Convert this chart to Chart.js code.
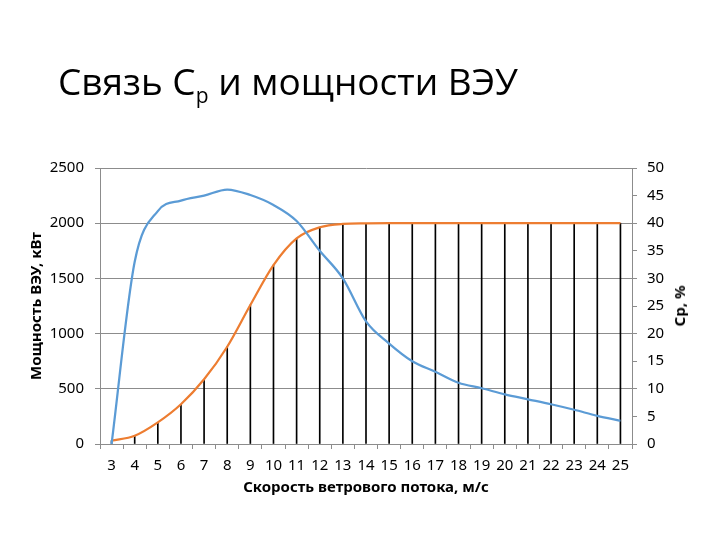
<!DOCTYPE html>
<html>
<head>
<meta charset="utf-8">
<script src="https://cdn.jsdelivr.net/npm/chart.js@4"></script>
<style>
  html, body { margin: 0; padding: 0; background: #fff; }
  #wrap { position: relative; width: 720px; height: 540px; }
  #title { position: absolute; left: 58px; top: 62px; font-family: "Open Sans", sans-serif; font-weight: 400; font-size: 37px; line-height: 37px; color: #000; white-space: nowrap; }
  #title .sub { position: relative; top: 8px; font-size: 21px; }
  #rtitle { position: absolute; left: 679px; top: 306px; transform: translate(-50%, -50%) rotate(-90deg); font-family: "Noto Sans", sans-serif; font-weight: bold; font-size: 15px; color: #000; white-space: nowrap; }
</style>
</head>
<body>
<div id="wrap">
  <canvas id="c" width="720" height="540"></canvas>
  <div id="title">Связь C<span class="sub">р</span> и мощности ВЭУ</div>
  <div id="rtitle">Ср, %</div>
</div>
<script>
const categories = ["3","4","5","6","7","8","9","10","11","12","13","14","15","16","17","18","19","20","21","22","23","24","25"];
const powerKW = [30, 75, 196, 360, 586, 881, 1259, 1621, 1863, 1963, 1993, 1998, 2000, 2000, 2000, 2000, 2000, 2000, 2000, 2000, 2000, 2000, 2000];
const cpPercent = [0, 33, 42.2, 44.1, 45, 46.1, 45.1, 43.3, 40.4, 35, 30, 22.2, 18.2, 15, 13.1, 11.1, 10.1, 9.0, 8.1, 7.2, 6.2, 5.1, 4.2];
const leftTicks = [0, 500, 1000, 1500, 2000, 2500];
const rightTicks = [0, 5, 10, 15, 20, 25, 30, 35, 40, 45, 50];

const tickFont = { family: "Noto Sans", size: 15 };
const axisTitleFont = { family: "Noto Sans", size: 15, weight: "bold" };
const gridColor = "#8c8c8c";

new Chart(document.getElementById("c"), {
  data: {
    labels: categories,
    datasets: [
      { type: "line", label: "Мощность", data: powerKW, yAxisID: "y", borderColor: "#ED7D31", backgroundColor: "#ED7D31", borderWidth: 2.25, pointRadius: 0, cubicInterpolationMode: "monotone", order: 1 },
      { type: "line", label: "Cp", data: cpPercent, yAxisID: "y1", borderColor: "#5B9BD5", backgroundColor: "#5B9BD5", borderWidth: 2.25, pointRadius: 0, cubicInterpolationMode: "monotone", order: 0 },
      { type: "bar", label: "drop", data: powerKW, yAxisID: "y", backgroundColor: "#000", barThickness: 1, order: 2 }
    ]
  },
  options: {
    responsive: false,
    animation: false,
    layout: { padding: { top: 168, left: 0, right: 0, bottom: 0 } },
    plugins: { legend: { display: false }, tooltip: { enabled: false } },
    scales: {
      x: {
        type: "category",
        offset: true,
        grid: { display: true, drawOnChartArea: false, offset: true, tickLength: 5, color: gridColor },
        border: { display: true, color: gridColor },
        ticks: { font: tickFont, color: "#000", padding: 8, maxRotation: 0, autoSkip: false },
        title: { display: true, text: "Скорость ветрового потока, м/с", font: axisTitleFont, color: "#000", padding: { top: 0, bottom: 43 } },
        afterFit: s => { s.height = 96; }
      },
      y: {
        position: "left",
        min: 0, max: 2500,
        afterBuildTicks: s => { s.ticks = leftTicks.map(v => ({ value: v })); },
        grid: { color: gridColor, tickLength: 5 },
        border: { display: true, color: gridColor },
        ticks: { font: tickFont, color: "#000", padding: 11, callback: v => String(v) },
        title: { display: true, text: "Мощность ВЭУ, кВт", font: axisTitleFont, color: "#000", padding: { top: 28, bottom: 0 } },
        afterFit: s => { s.width = 100; }
      },
      y1: {
        position: "right",
        min: 0, max: 50,
        afterBuildTicks: s => { s.ticks = rightTicks.map(v => ({ value: v })); },
        grid: { drawOnChartArea: false, color: gridColor, tickLength: 5 },
        border: { display: true, color: gridColor },
        ticks: { font: tickFont, color: "#000", padding: 10, callback: v => String(v) },
        afterFit: s => { s.width = 88; }
      }
    }
  }
});
</script>
</body>
</html>
